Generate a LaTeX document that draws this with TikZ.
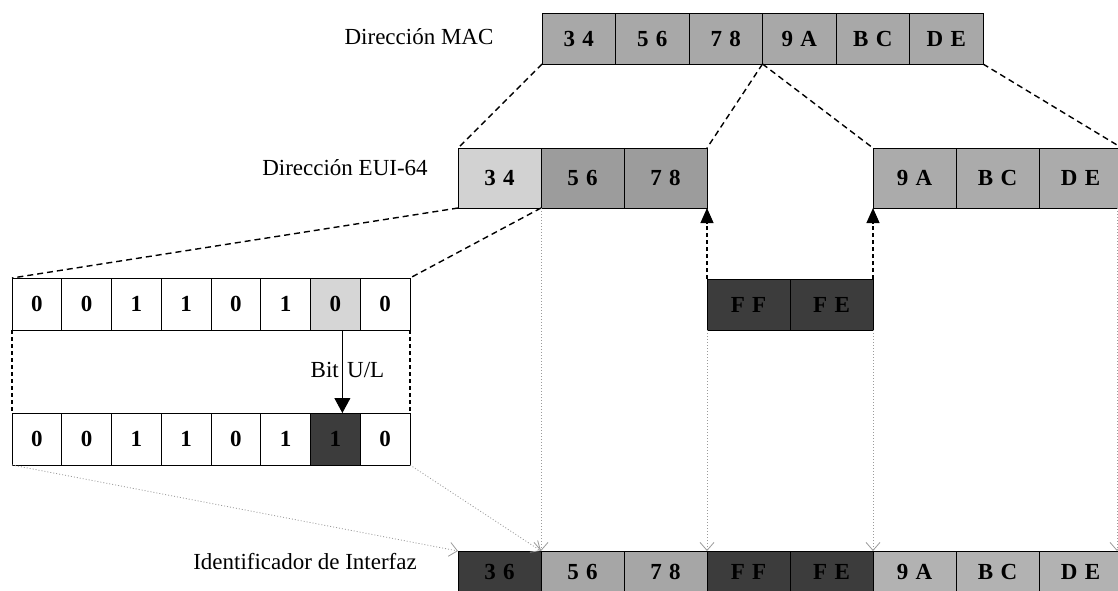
\documentclass[tikz,border=0pt]{standalone}
\usepackage{fontspec}
\setmainfont{Liberation Serif}
\usetikzlibrary{arrows.meta}
\definecolor{macg}{HTML}{A8A8A8}
\definecolor{lightg}{HTML}{D2D2D2}
\definecolor{midg}{HTML}{9C9C9C}
\definecolor{eug}{HTML}{ABABAB}
\definecolor{darkg}{HTML}{3C3C3C}
\definecolor{idg}{HTML}{A6A6A6}
\definecolor{idg2}{HTML}{B2B2B2}
\definecolor{bitg}{HTML}{D6D6D6}
\definecolor{dotg}{HTML}{9A9A9A}
\newcommand{\cgap}{\hspace{0.32em}}
\begin{document}
\begin{tikzpicture}[x=1pt,y=-1pt,
  cell/.style={draw=black, line width=0.9pt, inner sep=0pt, outer sep=0pt,
    font=\fontsize{23}{27}\bfseries\selectfont},
  maccell/.style={cell, fill=macg, minimum width=73.5pt, minimum height=51pt},
  euicell/.style={cell, minimum width=83pt, minimum height=60pt},
  idcell/.style={cell, minimum width=83pt, minimum height=41pt},
  bitcell/.style={cell, fill=white, minimum width=49.75pt, minimum height=52pt},
  lbl/.style={font=\fontsize{23}{27}\selectfont, inner sep=0pt},
  dsh/.style={line width=1.4pt, dash pattern=on 6pt off 4pt},
  dshup/.style={line width=1.1pt, dash pattern=on 4pt off 3pt,
    -{Triangle[length=15pt,width=13pt]}},
  dotl/.style={draw=dotg, line width=0.8pt, dash pattern=on 1pt off 2pt},
  dotarrow/.style={dotl, -{Straight Barb[length=8pt,width=14pt,line width=0.8pt]}}]
\useasboundingbox (0,0) rectangle (1118,590);

% labels
\node[lbl] (lmac) at (419,37) {Dirección MAC};
\node[lbl] (leui) at (345,168) {Dirección EUI-64};
\node[lbl] (lid) at (305,562) {Identificador de Interfaz};

% MAC row
\node[maccell] (mac1) at ({542+73.5*0.5},38.5) {3\cgap4};
\node[maccell] (mac2) at ({542+73.5*1.5},38.5) {5\cgap6};
\node[maccell] (mac3) at ({542+73.5*2.5},38.5) {7\cgap8};
\node[maccell] (mac4) at ({542+73.5*3.5},38.5) {9\cgap A};
\node[maccell] (mac5) at ({542+73.5*4.5},38.5) {B\cgap C};
\node[maccell] (mac6) at ({542+73.5*5.5},38.5) {D\cgap E};

% EUI-64 row
\node[euicell, fill=lightg] (eui1) at (499.5,178) {3\cgap4};
\node[euicell, fill=midg] (eui2) at (582.5,178) {5\cgap6};
\node[euicell, fill=midg] (eui3) at (665.5,178) {7\cgap8};
\node[euicell, fill=eug] (eui4) at (914.5,178) {9\cgap A};
\node[euicell, fill=eug] (eui5) at (997.5,178) {B\cgap C};
\node[euicell, fill=eug] (eui6) at (1080.5,178) {D\cgap E};

% FF FE
\node[euicell, fill=darkg, minimum height=51pt] (ff) at (748.5,304.5) {F\cgap F};
\node[euicell, fill=darkg, minimum height=51pt] (fe) at (831.5,304.5) {F\cgap E};

% bit rows
\foreach \b [count=\i] in {0,0,1,1,0,1,0,0}
  \node[bitcell] (b\i) at ({12+49.75*(\i-0.5)},304) {\b};
\node[bitcell, fill=bitg] at (b7) {0};
\foreach \b [count=\i] in {0,0,1,1,0,1,1,0}
  \node[bitcell] (c\i) at ({12+49.75*(\i-0.5)},439) {\b};
\node[bitcell, fill=darkg] at (c7) {1};

% interface identifier row
\node[idcell, fill=darkg] (id1) at (499.5,571.5) {3\cgap6};
\node[idcell, fill=idg] (id2) at (582.5,571.5) {5\cgap6};
\node[idcell, fill=idg] (id3) at (665.5,571.5) {7\cgap8};
\node[idcell, fill=darkg] (id4) at (748.5,571.5) {F\cgap F};
\node[idcell, fill=darkg] (id5) at (831.5,571.5) {F\cgap E};
\node[idcell, fill=idg2] (id6) at (914.5,571.5) {9\cgap A};
\node[idcell, fill=idg2] (id7) at (997.5,571.5) {B\cgap C};
\node[idcell, fill=idg2] (id8) at (1080.5,571.5) {D\cgap E};

% MAC -> EUI-64 dashed
\draw[dsh] (mac1.south west) -- (eui1.north west);
\draw[dsh] (mac3.south east) -- (eui3.north east);
\draw[dsh] (mac3.south east) -- (eui4.north west);
\draw[dsh] (mac6.south east) -- (eui6.north east);

% EUI 34 -> bits
\draw[dsh] (eui1.south west) -- (b1.north west);
\draw[dsh] (eui1.south east) -- (b8.north east);
\draw[line width=1.1pt, dash pattern=on 4pt off 3pt] (b1.south west) -- (c1.north west);
\draw[line width=1.1pt, dash pattern=on 4pt off 3pt] (b8.south east) -- (c8.north east);

% U/L bit
\draw[line width=0.9pt, -{Triangle[length=15pt,width=16pt]}] ([xshift=7pt]b7.south) -- ([xshift=7pt]c7.north);
\node[lbl, anchor=east] (bitl) at (339,370) {Bit};
\node[lbl, anchor=west] (ull) at (347,370) {U/L};

% FF FE insertion
\draw[dshup] (ff.north west) -- (eui3.south east);
\draw[dshup] (fe.north east) -- (eui4.south west);

% dotted mapping to interface identifier
\coordinate (rt) at (1117,208);
\coordinate (rb) at (1117,551);
\draw[dotarrow] (eui2.south west) -- (id2.north west);
\draw[dotarrow] (ff.south west) -- (id4.north west);
\draw[dotarrow] (fe.south east) -- (id6.north west);
\draw[dotarrow] (rt) -- (rb);
\draw[dotarrow] (c1.south west) -- (id1.north west);
\draw[dotarrow] (c8.south east) -- (id2.north west);
\end{tikzpicture}
\end{document}
